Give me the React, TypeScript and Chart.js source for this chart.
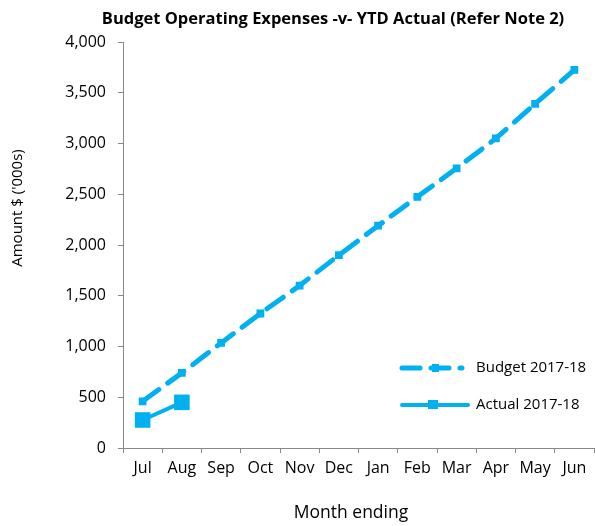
import React, { useEffect, useRef } from "react";
import { Chart, registerables } from "chart.js";

Chart.register(...registerables);

const months = ["Jul", "Aug", "Sep", "Oct", "Nov", "Dec", "Jan", "Feb", "Mar", "Apr", "May", "Jun"];
const budget = [460, 740, 1035, 1325, 1600, 1900, 2190, 2475, 2755, 3050, 3390, 3725];
const actual: (number | null)[] = [276, 450, null, null, null, null, null, null, null, null, null, null];
const yTicks = [0, 500, 1000, 1500, 2000, 2500, 3000, 3500, 4000];
const titleText = "Budget Operating Expenses -v- YTD Actual (Refer Note 2)";
const yTitle = "Amount $ ('000s)";
const xTitle = "Month ending";
const budgetLabel = "Budget 2017-18";
const actualLabel = "Actual 2017-18";

const BLUE = "#00B0F0";
const FONT = "'Open Sans', sans-serif";

export default function App() {
  const ref = useRef<HTMLCanvasElement>(null);
  useEffect(() => {
    if (!ref.current) return;
    const overlay = {
      id: "overlay",
      afterDraw(chart: any) {
        const ctx = chart.ctx;
        const area = chart.chartArea;
        ctx.save();
        ctx.fillStyle = "#000";
        ctx.font = `bold 16.5px ${FONT}`;
        ctx.textAlign = "center";
        ctx.textBaseline = "middle";
        ctx.fillText(titleText, 333, 19);
        ctx.font = `17.5px ${FONT}`;
        ctx.fillText(xTitle, 351, 513);
        ctx.save();
        ctx.translate(18, 208);
        ctx.rotate(-Math.PI / 2);
        ctx.font = `15px ${FONT}`;
        ctx.fillText(yTitle, 0, 0);
        ctx.restore();
        // legend
        const lx = area.right - 192;
        const y1 = area.bottom - 80;
        const y2 = area.bottom - 43;
        ctx.strokeStyle = BLUE;
        ctx.fillStyle = BLUE;
        ctx.lineWidth = 5;
        ctx.lineCap = "round";
        ctx.setLineDash([18, 11]);
        ctx.beginPath();
        ctx.moveTo(lx, y1);
        ctx.lineTo(lx + 60, y1);
        ctx.stroke();
        ctx.setLineDash([]);
        ctx.fillRect(lx + 30, y1 - 4, 7, 8);
        ctx.lineWidth = 4;
        ctx.lineCap = "round";
        ctx.beginPath();
        ctx.moveTo(lx, y2);
        ctx.lineTo(lx + 66, y2);
        ctx.stroke();
        ctx.fillRect(lx + 26, y2 - 5, 10, 9);
        ctx.fillStyle = "#000";
        ctx.font = `15px ${FONT}`;
        ctx.textAlign = "left";
        ctx.fillText(budgetLabel, lx + 74, y1);
        ctx.fillText(actualLabel, lx + 74, y2);
        ctx.restore();
      },
    };
    const chart = new Chart(ref.current, {
      type: "line",
      data: {
        labels: months,
        datasets: [
          {
            label: budgetLabel,
            data: budget,
            borderColor: BLUE,
            backgroundColor: BLUE,
            borderWidth: 5,
            borderDash: [20, 11],
            borderCapStyle: "round",
            pointStyle: "rect",
            pointRadius: 5.5,
            pointBorderWidth: 0,
            fill: false,
          },
          {
            label: actualLabel,
            data: actual,
            borderColor: BLUE,
            backgroundColor: BLUE,
            borderWidth: 4,
            pointStyle: "rect",
            pointRadius: 11,
            pointBorderWidth: 0,
            fill: false,
          },
        ],
      },
      options: {
        responsive: false,
        animation: false,
        layout: { autoPadding: false, padding: { top: 42, right: 1, left: 0, bottom: 0 } },
        plugins: {
          legend: { display: false },
          title: { display: false },
          tooltip: { enabled: false },
        },
        scales: {
          x: {
            offset: true,
            afterFit: (s: any) => {
              s.height = 78;
              s.paddingLeft = 0;
              s.paddingRight = 0;
            },
            grid: { display: true, offset: true, drawOnChartArea: false, drawTicks: true, tickLength: 5, color: "#888" },
            border: { color: "#888", width: 1 },
            ticks: { color: "#000", font: { size: 16, family: FONT }, padding: 6, maxRotation: 0 },
          },
          y: {
            min: 0,
            max: 4000,
            afterBuildTicks: (s: any) => {
              s.ticks = yTicks.map((v) => ({ value: v }));
            },
            afterFit: (s: any) => {
              s.width = 123;
            },
            grid: { display: true, drawOnChartArea: false, drawTicks: true, tickLength: 5, color: "#888" },
            border: { color: "#888", width: 1 },
            ticks: {
              color: "#000",
              font: { size: 16, family: FONT },
              padding: 12,
              callback: (v: any) => Number(v).toLocaleString("en-US"),
            },
          },
        },
      },
      plugins: [overlay],
    });
    return () => chart.destroy();
  }, []);
  return (
    <div style={{ position: "fixed", left: 0, top: 0, width: 595, height: 526, background: "#fff" }}>
      <canvas ref={ref} width={595} height={526} style={{ width: 595, height: 526 }} />
    </div>
  );
}
